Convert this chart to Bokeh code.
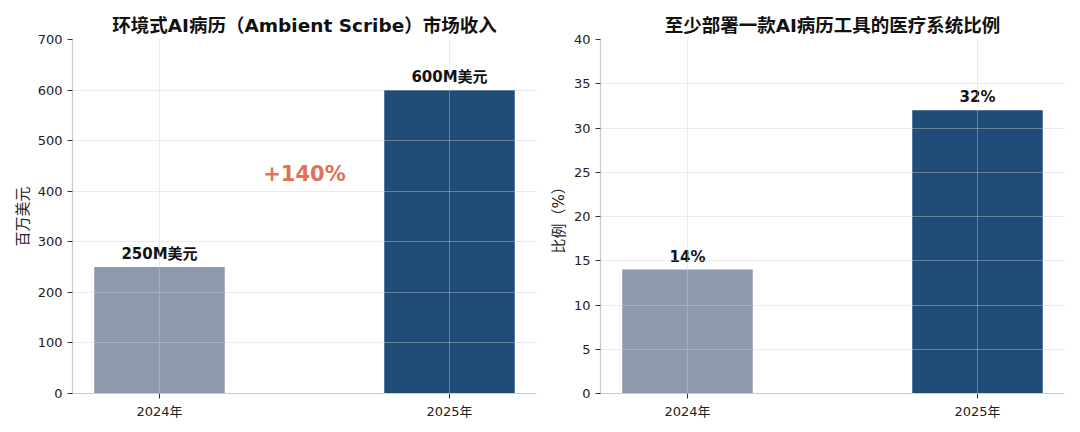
#!/usr/bin/env python3

from bokeh.embed import file_html
from bokeh.layouts import row
from bokeh.models import Label
from bokeh.plotting import figure
from bokeh.resources import INLINE

years = ["2024年", "2025年"]
revenue = [250, 600]
revenue_labels = ["250M美元", "600M美元"]
growth_label = "+140%"
share = [14, 32]
share_labels = ["14%", "32%"]

bar_colors = ["#8C99AE", "#1F4D78"]
FONT = "DejaVu Sans, Noto Sans CJK SC"


def make_panel(title, values, labels, y_label, y_end, y_step, border_left, border_right):
    xs = list(range(len(values)))
    p = figure(
        title=title,
        frame_width=464,
        frame_height=354,
        x_range=(-0.3, 1.3),
        y_range=(0, y_end),
        output_backend="svg",
        toolbar_location=None,
        min_border_left=border_left,
        min_border_right=border_right,
        min_border_top=39,
        min_border_bottom=30,
        outline_line_color=None,
        background_fill_color="white",
    )
    p.title.align = "center"
    p.title.offset = -10
    p.title.text_font = FONT
    p.title.text_font_size = "18.5px"
    p.title.text_font_style = "bold"
    p.title.text_color = "#111111"
    p.title.standoff = 7

    p.vbar(x=xs, top=values, width=0.45, color=bar_colors, line_color=None)
    p.text(
        x=xs,
        y=values,
        text=labels,
        text_align="center",
        text_baseline="bottom",
        y_offset=-4,
        text_font_size="15px",
        text_font_style="bold",
        text_color="#111111",
        text_font={"value": FONT},
    )

    for ax in (p.xaxis, p.yaxis):
        ax.axis_line_color = "#cccccc"
        ax.axis_line_width = 1.2
        ax.major_tick_line_color = "#333333"
        ax.major_tick_out = 5
        ax.major_tick_in = 0
        ax.minor_tick_line_color = None
        ax.major_label_text_font = FONT
        ax.major_label_text_font_size = "13px"
        ax.major_label_text_color = "#222222"

    p.xaxis.ticker = xs
    p.xaxis.major_label_overrides = {i: y for i, y in enumerate(years)}
    p.yaxis.ticker = list(range(0, y_end + 1, y_step))
    p.yaxis.axis_label = y_label
    p.yaxis.axis_label_text_font = FONT
    p.yaxis.axis_label_text_font_size = "15px"
    p.yaxis.axis_label_text_font_style = "normal"
    p.yaxis.axis_label_text_color = "#222222"
    p.yaxis.axis_label_standoff = 3

    p.xgrid.ticker = xs
    p.grid.grid_line_color = "#d0d0d0"
    p.grid.grid_line_alpha = 0.4
    p.grid.level = "overlay"
    return p


p1 = make_panel("环境式AI病历（Ambient Scribe）市场收入", revenue, revenue_labels,
                "百万美元", 700, 100, 72, 4)
p1.add_layout(Label(
    x=0.5, y=sum(revenue) / 2, text=growth_label, text_align="center",
    text_baseline="middle", y_offset=5, text_font=FONT, text_font_size="21px",
    text_font_style="bold", text_color="#E07356",
))

p2 = make_panel("至少部署一款AI病历工具的医疗系统比例", share, share_labels,
                "比例（%）", 40, 5, 60, 8)

layout = row(p1, p2)
open("out.html", "w").write(file_html(layout, INLINE))
